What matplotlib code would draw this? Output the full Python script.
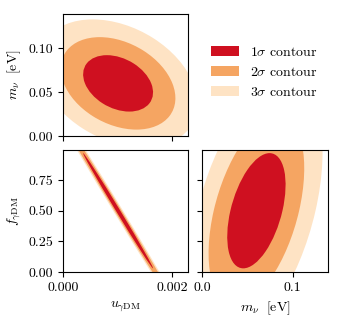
import numpy as np
import matplotlib
matplotlib.use('Agg')
import matplotlib.pyplot as plt
from matplotlib.patches import Ellipse, Patch

plt.rcParams['font.family'] = 'serif'
plt.rcParams['font.serif'] = ['cmr10']
plt.rcParams['mathtext.fontset'] = 'cm'
plt.rcParams['axes.unicode_minus'] = False
plt.rcParams['axes.formatter.use_mathtext'] = True
plt.rcParams['font.size'] = 10

# best fit values and errors
param_names = ['u', 'm', 'f']
means = {'u': 0.00101, 'm': 0.060, 'f': 0.50}
sigmas = {'u': 0.000422, 'm': 0.0212, 'f': 0.31}
corr = {('u', 'm'): -0.32, ('u', 'f'): -0.998, ('m', 'f'): 0.45}

# delta chi^2 for 1,2,3 sigma in 2D
levels = [2.30, 6.18, 11.83]
level_labels = [r'$1\sigma$ contour', r'$2\sigma$ contour', r'$3\sigma$ contour']
colors = ['#cf1020', '#f5a562', '#fee3c4']

limits = {'u': (0, 0.00229), 'm': (0, 0.139), 'f': (0, 0.995)}
ticks = {'u': [0, 0.002], 'm': [0.0, 0.05, 0.10], 'f': [0.0, 0.25, 0.5, 0.75]}


def draw_ellipses(ax, px, py):
    sx, sy = sigmas[px], sigmas[py]
    rho = corr[(px, py)]
    cov = np.array([[sx**2, rho*sx*sy], [rho*sx*sy, sy**2]])
    vals, vecs = np.linalg.eigh(cov)
    angle = np.degrees(np.arctan2(vecs[1, 1], vecs[0, 1]))
    for lev, col in reversed(list(zip(levels, colors))):
        w = 2*np.sqrt(lev*vals[1])
        h = 2*np.sqrt(lev*vals[0])
        ax.add_patch(Ellipse((means[px], means[py]), w, h, angle=angle,
                             facecolor=col, edgecolor='none'))
    ax.set_xlim(limits[px])
    ax.set_ylim(limits[py])


fig = plt.figure(figsize=(3.4, 3.2), dpi=100)
ax1 = fig.add_axes([0.185, 0.575, 0.368, 0.381])
ax2 = fig.add_axes([0.185, 0.15, 0.368, 0.381])
ax3 = fig.add_axes([0.594, 0.15, 0.371, 0.381])

draw_ellipses(ax1, 'u', 'm')
draw_ellipses(ax2, 'u', 'f')
draw_ellipses(ax3, 'm', 'f')

ax1.set_xticks(ticks['u'])
ax1.set_xticklabels([])
ax1.set_yticks(ticks['m'])
ax1.set_yticklabels(['0.00', '0.05', '0.10'])
ax1.set_ylabel(r'$m_\nu\ \ [\mathrm{eV}]$')

ax2.set_xticks(ticks['u'])
ax2.set_xticklabels(['0.000', '0.002'])
ax2.set_yticks(ticks['f'])
ax2.set_yticklabels(['0.00', '0.25', '0.50', '0.75'])
ax2.set_xlabel(r'$u_{\gamma\rm DM}$')
ax2.set_ylabel(r'$f_{\gamma\rm DM}$')

ax3.set_xticks([0.0, 0.1])
ax3.set_xticklabels(['0.0', '0.1'])
ax3.set_yticks(ticks['f'])
ax3.set_yticklabels([])
ax3.set_xlabel(r'$m_\nu\ \ [\mathrm{eV}]$')

handles = [Patch(facecolor=c, edgecolor='none') for c in colors]
fig.legend(handles, level_labels, loc='upper left', frameon=False,
           bbox_to_anchor=(0.585, 0.895))

fig.savefig('out.png', dpi=100)
